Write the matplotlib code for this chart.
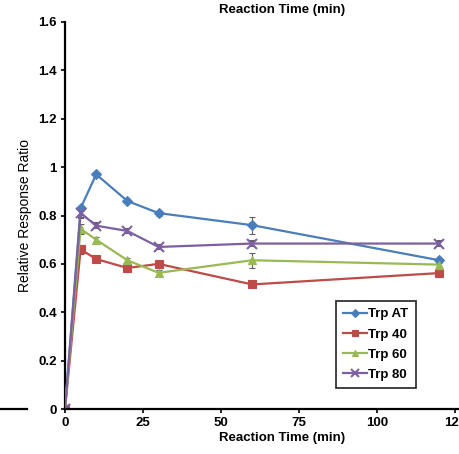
import numpy as np
import matplotlib.pyplot as plt
from matplotlib.lines import Line2D

plt.rcParams['font.family'] = ['Liberation Sans', 'DejaVu Sans']
plt.rcParams['font.weight'] = 'bold'

time_min = [0, 5, 10, 20, 30, 60, 120]

trp_at = [0, 0.83, 0.97, 0.86, 0.81, 0.76, 0.615]
trp_40 = [0, 0.66, 0.62, 0.583, 0.60, 0.515, 0.562]
trp_60 = [0, 0.745, 0.70, 0.615, 0.563, 0.615, 0.597]
trp_80 = [0, 0.81, 0.758, 0.736, 0.67, 0.684, 0.684]

err_at = [0, 0.01, 0.01, 0.01, 0.01, 0.035, 0.01]
err_40 = [0, 0.02, 0.01, 0.01, 0.01, 0.01, 0.01]
err_60 = [0, 0.02, 0.01, 0.01, 0.01, 0.03, 0.01]
err_80 = [0, 0.02, 0.01, 0.01, 0.01, 0.012, 0.01]

labels = ['Trp AT', 'Trp 40', 'Trp 60', 'Trp 80']
colors = ['#4A7EBB', '#BE4B48', '#98B954', '#7D60A0']
markers = ['D', 's', '^', 'x']
sizes = [5, 6, 6, 7]

W, H = 459, 454
fig = plt.figure(figsize=(W / 100, H / 100), dpi=100)
# axes runs past the right edge, like the cropped original
ax = fig.add_axes([65 / W, 1 - 409 / H, (500 - 65) / W, (409 - 22) / H])

series = [trp_at, trp_40, trp_60, trp_80]
errs = [err_at, err_40, err_60, err_80]
handles = []
for y, e, lab, c, m, s in zip(series, errs, labels, colors, markers, sizes):
    mew = 1.5 if m == 'x' else 0.8
    ax.errorbar(time_min, y, yerr=e, color=c, marker=m, markersize=s,
                markeredgewidth=mew, linewidth=1.6,
                ecolor='#606060', elinewidth=0.8, capsize=2, zorder=3)
    handles.append(Line2D([], [], color=c, marker=m, markersize=s - 1,
                          markeredgewidth=mew, linewidth=1.6, label=lab))

ax.set_xlim(0, 139.5)
ax.set_ylim(0, 1.6)
ax.set_xticks([0, 25, 50, 75, 100, 125])
ax.set_yticks(np.arange(0, 1.61, 0.2))
ax.set_yticklabels(['0', '0.2', '0.4', '0.6', '0.8', '1', '1.2', '1.4', '1.6'])
ax.tick_params(direction='out', length=3, width=1.2, labelsize=9.5, pad=3)
for sp in ['top', 'right']:
    ax.spines[sp].set_visible(False)
for sp in ['left', 'bottom']:
    ax.spines[sp].set_linewidth(1.6)
ax.spines['bottom'].set_zorder(5)

ax.set_xlabel('Reaction Time (min)', fontsize=9.5, fontweight='bold', labelpad=2)
ax.set_ylabel('Relative Response Ratio', fontsize=10, fontweight='normal', labelpad=4)
fig.text(282 / W, 1 - 10 / H, 'Reaction Time (min)', fontsize=9.5, fontweight='bold',
         ha='center', va='center')

fig.add_artist(Line2D([0, 27 / W], [1 - 409 / H, 1 - 409 / H], color='black', linewidth=1.6))

leg = ax.legend(handles=handles, loc='upper left',
                bbox_to_anchor=((336 - 65) / (500 - 65), (409 - 301) / 387),
                borderaxespad=0, fontsize=9.5, frameon=True, fancybox=False,
                edgecolor='black', handlelength=1.8, handletextpad=0.1,
                labelspacing=0.6, borderpad=0.55)
leg.get_frame().set_linewidth(1.3)
for t in leg.get_texts():
    t.set_fontweight('bold')

fig.savefig('out.png', dpi=100)
